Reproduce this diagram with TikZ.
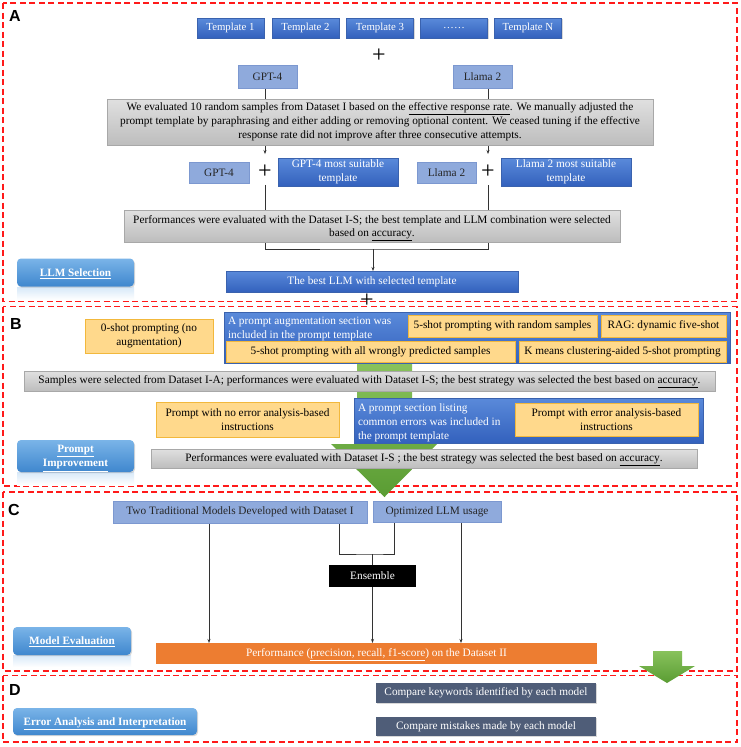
\documentclass[tikz,border=0pt]{standalone}
\usepackage{fontspec}
\setmainfont{Liberation Serif}
\newfontfamily\labfont{Liberation Sans}
\usetikzlibrary{arrows.meta,shadows,calc}
\pgfdeclarelayer{bg}
\pgfdeclarelayer{mid}
\pgfsetlayers{bg,mid,main}
\newcommand\myul[1]{\raisebox{0pt}[\height][0pt]{\underline{#1}}}
\definecolor{tplT}{HTML}{5A8ADA}
\definecolor{tplB}{HTML}{3361BD}
\definecolor{tplD}{HTML}{3A62AE}
\definecolor{lavF}{HTML}{8FAADC}
\definecolor{lavD}{HTML}{7C98D0}
\definecolor{grT}{HTML}{E0E0E0}
\definecolor{grB}{HTML}{BDBDBD}
\definecolor{grD}{HTML}{A8A8A8}
\definecolor{orL}{HTML}{FFD98C}
\definecolor{orLD}{HTML}{F2B83C}
\definecolor{orD}{HTML}{ED7D31}
\definecolor{slate}{HTML}{4F5D78}
\definecolor{btT}{HTML}{7AB4E8}
\definecolor{btB}{HTML}{3F87CE}
\definecolor{gnT}{HTML}{88C25C}
\definecolor{gnB}{HTML}{5A9C33}
\definecolor{frameRed}{HTML}{FF1A1A}
\begin{document}
\begin{tikzpicture}[x=1pt,y=-1pt,
  base/.style={inner sep=0pt, outer sep=0pt, align=center, font=\fontsize{11.3}{13.5}\selectfont},
  shad/.style={drop shadow={shadow xshift=1pt,shadow yshift=-1.2pt,opacity=.3}},
  tpl/.style={base, shad, top color=tplT, bottom color=tplB, draw=tplD, line width=0.4pt, text=white},
  lav/.style={base, fill=lavF, draw=lavD, line width=0.4pt, text=black!85},
  gry/.style={base, shad, top color=grT, bottom color=grB, draw=grD, line width=0.4pt, text=black},
  orl/.style={base, fill=orL, draw=orLD, line width=0.5pt, text=black},
  bigblue/.style={base, shad, top color=tplT, bottom color=tplB, draw=tplD, line width=0.4pt},
  btn/.style={base, shad, rounded corners=4pt, top color=btT, bottom color=btB, text=white, font=\bfseries\fontsize{11.2}{14.5}\selectfont},
  slatebox/.style={base, shad, fill=slate, text=white},
  plus/.style={inner sep=0pt, font=\fontsize{24}{24}\selectfont},
  conn/.style={draw=black!80, line width=0.6pt},
  arr/.style={conn, -{Stealth[length=4pt,width=3pt]}},
  panel/.style={draw=frameRed, line width=1.6pt, dash pattern=on 6pt off 3.5pt},
  lab/.style={font=\labfont\bfseries\fontsize{16}{16}\selectfont, inner sep=0pt},
  refl/.style={top color=btT!30!white, bottom color=white, draw=none}
]
\useasboundingbox (0,0) rectangle (740,747);

% ---------------- Panel A
\node[lab] (lA) at (15,16) {A};
\node[tpl, minimum width=67pt, minimum height=20pt, font=\fontsize{10.8}{13}\selectfont] (t1) at (230.5,28) {Template 1};
\node[tpl, minimum width=67pt, minimum height=20pt, font=\fontsize{10.8}{13}\selectfont] (t2) at (305.5,28) {Template 2};
\node[tpl, minimum width=67pt, minimum height=20pt, font=\fontsize{10.8}{13}\selectfont] (t3) at (380,28) {Template 3};
\node[tpl, minimum width=67pt, minimum height=20pt, font=\fontsize{10.8}{13}\selectfont] (t4) at (454,28) {……};
\node[tpl, minimum width=67pt, minimum height=20pt, font=\fontsize{10.8}{13}\selectfont] (t5) at (528,28) {Template N};
\node[plus] (p0) at (379,56) {+};
\node[lav, minimum width=59pt, minimum height=23pt] (gpt) at (267.5,76.5) {GPT-4};
\node[lav, minimum width=59pt, minimum height=23pt] (llama) at (482.5,76.5) {Llama 2};
\node[gry, minimum width=546pt, minimum height=46pt, font=\fontsize{11.3}{14}\selectfont] (g1) at (380,122)
 {We evaluated 10 random samples from Dataset I based on the \myul{effective response rate}. We manually adjusted the\\
  prompt template by paraphrasing and either adding or removing optional content. We ceased tuning if the effective\\
  response rate did not improve after three consecutive attempts.};
\node[lav, minimum width=60pt, minimum height=21pt] (gpt2) at (219,172.5) {GPT-4};
\node[plus] (pA) at (265,172) {+};
\node[tpl, minimum width=120pt, minimum height=28pt] (gbest) at (338,172) {GPT-4 most suitable\\template};
\node[lav, minimum width=59pt, minimum height=21pt] (llama2) at (446.5,172.5) {Llama 2};
\node[plus] (pB) at (488,172) {+};
\node[tpl, minimum width=130pt, minimum height=28pt] (lbest) at (566,172) {Llama 2 most suitable\\template};
\node[gry, minimum width=496pt, minimum height=32pt] (g2) at (372,226)
 {Performances were evaluated with the Dataset I-S; the best template and LLM combination were selected\\
  based on \myul{accuracy}.};
\coordinate (j1) at (373,249);
\node[tpl, minimum width=292pt, minimum height=21pt] (best) at (372,281.5) {The best LLM with selected template};
\fill[refl] (17,287) rectangle (134,300);
\node[btn, minimum width=117pt, minimum height=28pt] (btnA) at (75.5,272.5) {\myul{LLM Selection}};
\node[plus] (p3) at (367,301) {+};

% ---------------- Panel B
\node[lab] (lB) at (16,324) {B};
\node[orl, minimum width=128pt, minimum height=34pt] (zero) at (149,336) {0-shot prompting (no\\augmentation)};
\node[bigblue, minimum width=506pt, minimum height=51pt] (bigB) at (477,337.5) {};
\node[base, align=left, text=white, anchor=north west] (bBt) at (228,317.5) {A prompt augmentation section was\\included in the prompt template};
\node[orl, minimum width=189pt, minimum height=22pt] (s1) at (502.5,326) {5-shot prompting with random samples};
\node[orl, minimum width=125pt, minimum height=22pt] (s2) at (663.5,326) {RAG: dynamic five-shot};
\node[orl, minimum width=289pt, minimum height=21pt] (s3) at (370.5,351.5) {5-shot prompting with all wrongly predicted samples};
\node[orl, minimum width=207pt, minimum height=21pt] (s4) at (622.5,351.5) {K means clustering-aided 5-shot prompting};
\node[gry, minimum width=691pt, minimum height=20pt] (g3) at (369.5,381)
 {Samples were selected from Dataset I-A; performances were evaluated with Dataset I-S; the best strategy was selected the best based on \myul{accuracy}.};
\node[orl, minimum width=183pt, minimum height=35pt] (noerr) at (247.5,419.5) {Prompt with no error analysis-based\\instructions};
\node[bigblue, minimum width=349pt, minimum height=45pt] (blue2) at (528.5,420.5) {};
\node[base, align=left, text=white, anchor=north west, font=\fontsize{11.3}{14}\selectfont] (b2t) at (358,403.5) {A prompt section listing\\common errors was included in\\the prompt template};
\node[orl, minimum width=183pt, minimum height=33pt] (err) at (606.5,419.5) {Prompt with error analysis-based\\instructions};
\node[gry, minimum width=546pt, minimum height=19pt] (g4) at (424,458.5)
 {Performances were evaluated with Dataset I-S ; the best strategy was selected the best based on \myul{accuracy}.};
\fill[refl] (17,472) rectangle (134,485);
\node[btn, minimum width=117pt, minimum height=32pt] (btnB) at (75.5,456) {\myul{Prompt}\\\myul{Improvement}};

% ---------------- Panel C
\node[lab] (lC) at (14,510) {C};
\node[lav, minimum width=254pt, minimum height=22pt] (two) at (240,512) {Two Traditional Models Developed with Dataset I};
\node[lav, minimum width=128pt, minimum height=21pt] (opt) at (437,511.5) {Optimized LLM usage};
\node[base, fill=black, text=white, minimum width=87pt, minimum height=22pt] (ens) at (372.5,576) {Ensemble};
\node[base, fill=orD, text=white, minimum width=441pt, minimum height=21pt] (perf) at (376.5,653.5) {Performance (\myul{precision, recall, f1-score}) on the Dataset II};
\fill[refl] (13,655) rectangle (131,667);
\node[btn, minimum width=118pt, minimum height=28pt] (btnC) at (72,641) {\myul{Model Evaluation}};

% ---------------- Panel D
\node[lab] (lD) at (15,690) {D};
\node[slatebox, minimum width=220pt, minimum height=20pt] (kw) at (486,693) {Compare keywords identified by each model};
\node[slatebox, minimum width=220pt, minimum height=19pt] (mis) at (486,726.5) {Compare mistakes made by each model};
\node[btn, minimum width=184pt, minimum height=27pt] (btnD) at (105,721.5) {\myul{Error Analysis and Interpretation}};

% ---------------- connectors
\begin{pgfonlayer}{mid}
\draw[conn] (pA |- gpt.south) -- (pA |- g1.north);
\draw[conn] (pB |- llama.south) -- (pB |- g1.north);
\draw[arr] (pA |- g1.south) -- ([yshift=11pt]pA.north);
\draw[arr] (pB |- g1.south) -- ([yshift=11pt]pB.north);
\draw[conn] ([yshift=-6pt]pA.south) |- (j1) -| ([yshift=-6pt]pB.south);
\draw[arr] (j1) -- (j1 |- best.north);
% green arrows
\shade[top color=gnT, bottom color=gnB] (357,363) -- (412,363) -- (412,444) -- (437,444) -- (384.5,497) -- (331,444) -- (357,444) -- cycle;
\shade[top color=gnT, bottom color=gnB] (653,651) -- (682,651) -- (682,666) -- (695,666) -- (667,683) -- (639,666) -- (653,666) -- cycle;
% panel C
\coordinate (c1) at ($(two.south west)!0.378!(two.south east)$);
\coordinate (c2) at ($(opt.south west)!0.6875!(opt.south east)$);
\coordinate (c3) at ($(two.south west)!0.89!(two.south east)$);
\coordinate (c4) at ($(opt.south west)!0.164!(opt.south east)$);
\coordinate (j2) at ($(ens.north)+(0,-11)$);
\draw[arr] (c1) -- (c1 |- perf.north);
\draw[arr] (c2) -- (c2 |- perf.north);
\draw[conn, line width=0.9pt] (c3) |- (j2) -| (c4);
\draw[conn, line width=0.9pt] (j2) -- (ens.north);
\draw[arr, line width=1pt] (ens.south) -- (ens.south |- perf.north);
\end{pgfonlayer}

% ---------------- panels
\begin{pgfonlayer}{bg}
\fill[white] (0,0) rectangle (740,747);
\draw[panel] (3,3) rectangle (737,301.5);
\draw[panel] (3,306.5) rectangle (737,486);
\draw[panel] (3,492) rectangle (737,671);
\draw[panel] (3,675.5) rectangle (737,742);
\end{pgfonlayer}
\end{tikzpicture}
\end{document}
